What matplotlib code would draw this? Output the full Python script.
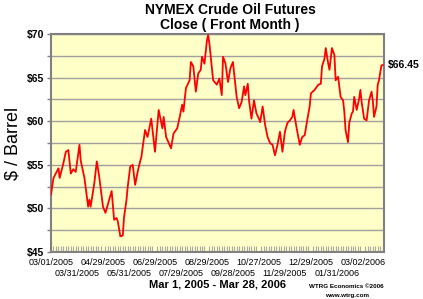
import matplotlib
matplotlib.use("Agg")
import matplotlib.pyplot as plt
from matplotlib.ticker import MultipleLocator, FuncFormatter

plt.rcParams["font.family"] = ["Liberation Sans", "DejaVu Sans"]

# trading-day index since 03/01/2005 and front-month close ($/bbl)
days = [0, 2, 6, 7, 10, 12, 14, 16, 18, 20, 23, 24, 27, 30, 31, 32, 35, 37, 39, 42,
        44, 47, 49, 51, 53, 54, 56, 58, 59, 61, 62, 64, 66, 68, 70, 72, 73, 76, 78, 81,
        82, 84, 87, 90, 91, 93, 97, 99, 102, 104, 106, 107, 109, 112, 113, 115, 117, 119, 121, 122,
        124, 126, 127, 128, 131, 134, 136, 138, 139, 141, 143, 145, 147, 148, 150, 152, 154, 156, 157, 159,
        160, 162, 164, 166, 168, 169, 171, 173, 175, 177, 179, 181, 183, 185, 187, 189, 191, 193, 195, 196,
        198, 201, 203, 205, 207, 209, 210, 213, 216, 218, 219, 221, 222, 224, 225, 227, 229, 230, 232, 234,
        236, 237, 238, 240, 241, 243, 244, 245, 247, 249, 250, 251, 253, 255, 257, 259, 260, 261, 263, 264,
        265, 267, 268]
prices = [51.6, 53.5, 54.6, 53.5, 55.2, 56.5, 56.7, 54.0, 54.5, 54.2, 57.3, 55.5, 53.5, 50.2, 51.0, 50.2, 52.9, 55.4, 53.6, 50.2,
          49.5, 51.0, 52.0, 48.7, 48.9, 48.5, 46.8, 46.9, 49.0, 51.0, 52.5, 54.8, 55.0, 52.7, 54.2, 55.4, 55.9, 59.0, 58.2, 60.3,
          59.0, 56.5, 61.3, 59.2, 60.5, 58.2, 56.9, 58.6, 59.2, 60.5, 61.9, 61.1, 63.8, 64.7, 66.8, 66.3, 63.4, 65.5, 65.9, 67.4,
          66.6, 69.3, 69.9, 68.9, 64.7, 64.2, 64.9, 63.0, 67.4, 66.6, 64.5, 66.1, 66.8, 65.5, 62.8, 61.5, 62.2, 64.0, 63.0, 64.3,
          62.4, 60.3, 62.4, 60.9, 60.3, 59.9, 61.7, 59.6, 58.2, 57.5, 57.3, 56.1, 57.3, 58.8, 56.5, 58.8, 59.8, 60.1, 60.5, 61.3,
          59.6, 57.3, 58.2, 58.4, 60.1, 61.7, 63.2, 63.6, 64.2, 64.3, 66.3, 67.2, 68.4, 66.6, 65.9, 68.4, 67.6, 64.7, 65.1, 62.8,
          62.4, 61.1, 59.0, 57.6, 59.8, 60.9, 61.1, 62.8, 61.3, 62.6, 63.6, 62.2, 60.3, 60.1, 62.4, 63.4, 62.4, 60.5, 61.7, 64.2,
          64.7, 66.4, 66.45]

tick_days = [0, 21, 42, 63, 84, 105, 126, 147, 168, 189, 210, 231, 252]
tick_labels = ["03/01/2005", "03/31/2005", "04/29/2005", "05/31/2005", "06/29/2005",
               "07/29/2005", "08/29/2005", "09/28/2005", "10/27/2005", "11/29/2005",
               "12/29/2005", "01/31/2006", "03/02/2006"]

fig = plt.figure(figsize=(4.23, 2.99), dpi=100)
ax = fig.add_axes([0.1206, 0.157, 0.787, 0.729])
ax.set_facecolor("#FFFFC8")

ax.plot(days, prices, color="#FF0000", linewidth=1.3, zorder=3)

ax.set_xlim(0, 269)
ax.set_ylim(45, 70)

ax.yaxis.set_major_locator(MultipleLocator(5))
ax.yaxis.set_minor_locator(MultipleLocator(2.5))
ax.yaxis.set_major_formatter(FuncFormatter(lambda v, p: f"${v:.0f}"))
ax.grid(True, axis="y", which="both", color="#A0A0A0", linewidth=1.0, zorder=1)
ax.tick_params(axis="y", which="major", length=3, width=1, color="#808080",
               labelsize=7.5, pad=2)
ax.tick_params(axis="y", which="minor", length=3, width=1, color="#808080")
for lab in ax.get_yticklabels():
    lab.set_fontweight("bold")

# two staggered rows of date labels
ax.set_xticks(tick_days[0::2])
ax.set_xticklabels(tick_labels[0::2], fontsize=6.5)
ax.xaxis.set_minor_locator(MultipleLocator(2))
ax.tick_params(axis="x", which="major", length=0, pad=4.2)
ax.tick_params(axis="x", which="minor", direction="in", length=4, width=0.8, color="#A8A8A8")

row2 = ax.secondary_xaxis("bottom")
row2.set_xticks(tick_days[1::2])
row2.set_xticklabels(tick_labels[1::2], fontsize=6.5)
row2.tick_params(axis="x", length=0, pad=12.5)
row2.spines["bottom"].set_visible(False)

for side in ["left", "bottom", "top", "right"]:
    ax.spines[side].set_color("#808080")
    ax.spines[side].set_linewidth(1.5)

ax.set_ylabel("$ / Barrel", fontsize=13, labelpad=4)

fig.text(0.5437, 0.965, "NYMEX Crude Oil Futures", ha="center", va="center",
         fontsize=10, fontweight="bold")
fig.text(0.5437, 0.915, "Close ( Front Month )", ha="center", va="center",
         fontsize=10, fontweight="bold")

ax.annotate(f"${prices[-1]:.2f}", xy=(days[-1], prices[-1]), xytext=(4, 0),
            textcoords="offset points", ha="left", va="center",
            fontsize=7.5, fontweight="bold", annotation_clip=False)

fig.text(0.514, 0.05, "Mar 1, 2005 - Mar 28, 2006", ha="center", va="center",
         fontsize=8, fontweight="bold")
fig.text(0.818, 0.043, "WTRG Economics \u00a92006", ha="center", va="center",
         fontsize=4.5, fontweight="bold")
fig.text(0.82, 0.013, "www.wtrg.com", ha="center", va="center",
         fontsize=4.5, fontweight="bold")

fig.savefig("out.png", dpi=100)
